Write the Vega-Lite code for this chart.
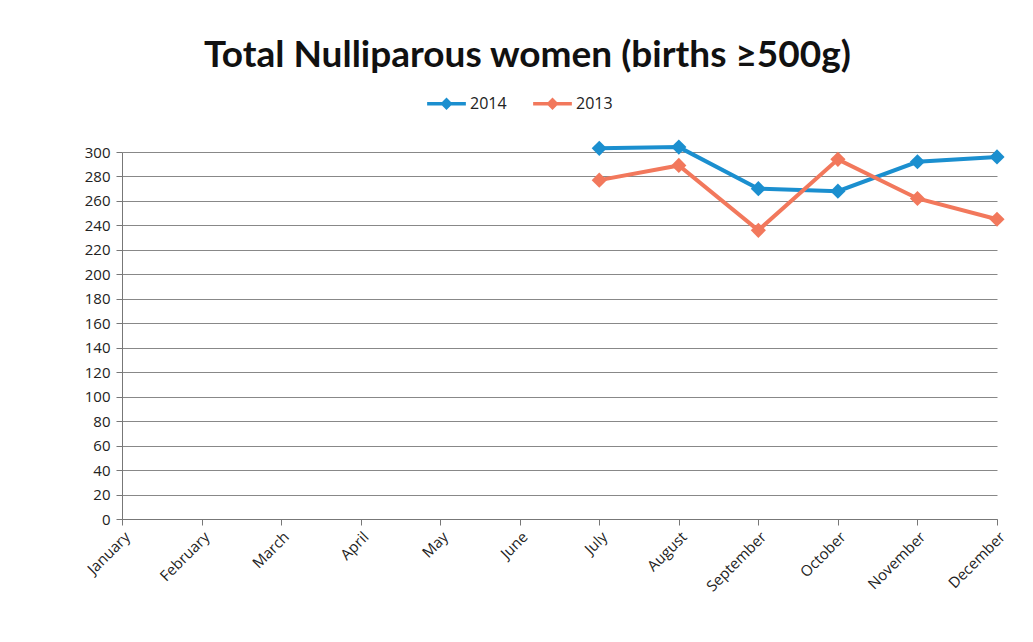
{
  "$schema": "https://vega.github.io/schema/vega-lite/v6.json",
  "width": 875,
  "height": 367,
  "autosize": {"type": "none"},
  "padding": {"left": 122, "top": 152, "right": 36, "bottom": 123},
  "background": "white",
  "title": {
    "text": "Total Nulliparous women (births ≥500g)",
    "font": "Lato",
    "fontSize": 37,
    "fontWeight": "bold",
    "color": "#111111",
    "anchor": "middle",
    "dx": -32,
    "offset": 9
  },
  "data": {
    "values": [
      {"month": "July", "year": "2014", "value": 303},
      {"month": "August", "year": "2014", "value": 304},
      {"month": "September", "year": "2014", "value": 270},
      {"month": "October", "year": "2014", "value": 268},
      {"month": "November", "year": "2014", "value": 292},
      {"month": "December", "year": "2014", "value": 296},
      {"month": "July", "year": "2013", "value": 277},
      {"month": "August", "year": "2013", "value": 289},
      {"month": "September", "year": "2013", "value": 236},
      {"month": "October", "year": "2013", "value": 294},
      {"month": "November", "year": "2013", "value": 262},
      {"month": "December", "year": "2013", "value": 245}
    ]
  },
  "encoding": {
    "x": {
      "field": "month",
      "type": "ordinal",
      "scale": {
        "type": "point",
        "padding": 0,
        "domain": ["January", "February", "March", "April", "May", "June", "July", "August", "September", "October", "November", "December"]
      },
      "axis": {
        "title": null,
        "labelAngle": -45,
        "labelAlign": "right",
        "labelBaseline": "top",
        "labelFont": "Open Sans",
        "labelFontSize": 15,
        "labelColor": "#222222",
        "labelPadding": 4,
        "tickColor": "#777777",
        "tickSize": 6,
        "domainColor": "#777777",
        "grid": false
      }
    },
    "y": {
      "field": "value",
      "type": "quantitative",
      "scale": {"domain": [0, 300], "nice": false},
      "axis": {
        "title": null,
        "values": [0, 20, 40, 60, 80, 100, 120, 140, 160, 180, 200, 220, 240, 260, 280, 300],
        "labelFont": "Open Sans",
        "labelFontSize": 15,
        "labelColor": "#222222",
        "labelPadding": 6,
        "tickColor": "#777777",
        "tickSize": 6,
        "domainColor": "#777777",
        "grid": true,
        "gridColor": "#888888",
        "gridWidth": 1
      }
    },
    "color": {
      "field": "year",
      "type": "nominal",
      "scale": {"domain": ["2014", "2013"], "range": ["#1b8fcf", "#f2785c"]},
      "legend": {
        "title": null,
        "orient": "none",
        "legendX": 305,
        "legendY": -68,
        "direction": "horizontal",
        "symbolType": "M-1,-0.09L1,-0.09L1,0.09L-1,0.09Z M0,-0.32L0.32,0L0,0.32L-0.32,0Z",
        "symbolSize": 1500,
        "symbolStrokeWidth": 0,
        "labelFont": "Open Sans",
        "labelFontSize": 16,
        "labelColor": "#222222",
        "columnPadding": 26,
        "labelOffset": 4
      }
    }
  },
  "layer": [
    {"mark": {"type": "line", "strokeWidth": 4}},
    {"mark": {"type": "point", "shape": "diamond", "filled": true, "size": 230, "opacity": 1}}
  ],
  "config": {"view": {"stroke": null}}
}
